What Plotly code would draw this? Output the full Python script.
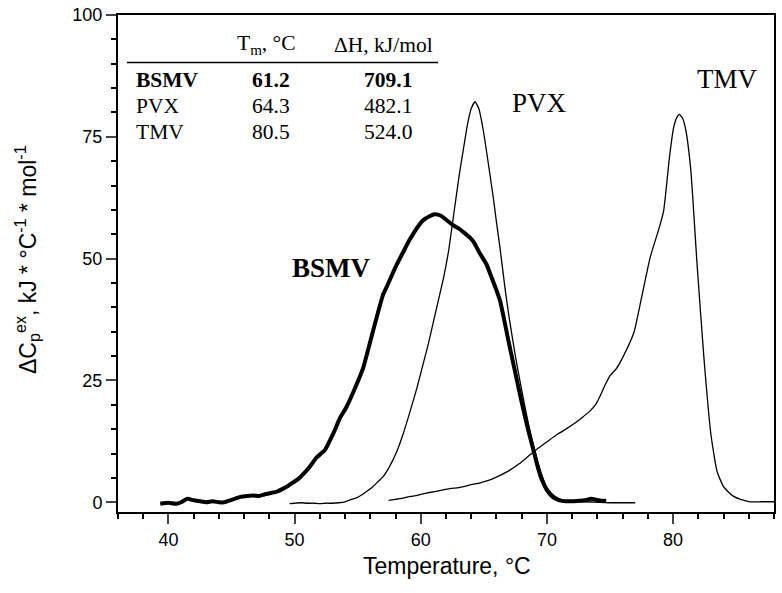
import plotly.graph_objects as go

# ---------------- data ----------------
bsmv_t = [39.35, 40.0, 40.6, 41.0, 41.5, 42.0, 42.5, 43.0, 43.5, 44.0, 44.4, 45.0, 45.7, 46.2,
          46.7, 47.2, 47.6, 48.1, 48.6, 49.1, 49.5, 49.9, 50.3, 50.7, 51.2, 51.75, 52.1, 52.4,
          52.8, 53.1, 53.6, 54.1, 54.8, 55.45, 56.2, 57.0, 57.3, 58.1, 58.6, 59.1, 59.9, 60.2,
          60.7, 61.1, 61.6, 62.1, 62.6, 63.0, 63.4, 63.9, 64.2, 64.7, 65.2, 65.5, 66.0, 66.3,
          67.0, 67.5, 68.0, 68.5, 69.0, 69.3, 69.6, 70.0, 70.5, 71.0, 71.5, 72.0, 72.5, 73.0,
          73.5, 73.9, 74.3, 74.7]
bsmv_cp = [-0.3, -0.1, -0.3, 0.0, 0.7, 0.4, 0.2, 0.0, 0.2, 0.0, 0.0, 0.5, 1.1, 1.3,
           1.4, 1.3, 1.6, 1.9, 2.2, 2.8, 3.4, 4.1, 4.8, 5.8, 7.3, 9.2, 10.0, 10.7,
           12.7, 14.3, 17.3, 19.5, 23.5, 27.7, 35.0, 42.5, 44.2, 48.8, 51.3, 53.8, 57.0, 57.9,
           58.7, 59.1, 58.8, 57.8, 56.8, 56.2, 55.4, 54.3, 53.4, 51.0, 48.9, 46.9, 43.5, 41.2,
           32.5, 26.5, 20.5, 15.0, 10.0, 7.0, 4.6, 2.5, 1.0, 0.4, 0.2, 0.2, 0.3, 0.4,
           0.7, 0.5, 0.3, 0.3]

pvx_t = [49.6, 50.0, 50.5, 51.0, 51.5, 52.0, 52.5, 53.0, 53.5, 54.0, 54.4, 54.9, 55.3, 55.7,
         56.2, 56.6, 57.0, 57.5, 58.1, 58.6, 59.1, 59.7, 60.2, 60.6, 61.0, 61.4, 61.8, 62.2,
         62.5, 62.85, 63.1, 63.4, 63.7, 64.0, 64.3, 64.6, 64.95, 65.3, 65.75, 66.0, 66.3, 66.7,
         67.0, 67.5, 68.0, 68.5, 69.0, 69.5, 70.0, 70.5, 71.0, 71.5, 72.0, 73.0, 74.0, 75.0,
         76.0, 77.0]
pvx_cp = [-0.3, -0.2, -0.1, -0.2, -0.2, -0.3, -0.2, -0.2, -0.1, 0.1, 0.5, 0.9, 1.5, 2.2,
          3.2, 4.2, 5.2, 7.2, 10.4, 14.0, 18.2, 23.5, 28.5, 32.5, 37.0, 41.5, 46.0, 51.5,
          57.0, 63.5, 68.0, 72.8, 77.5, 80.8, 82.2, 80.8, 76.4, 70.5, 62.5, 57.5, 51.8, 43.5,
          38.0, 30.0, 23.0, 16.5, 11.0, 6.3, 3.0, 1.5, 0.7, 0.3, 0.1, 0.1, 0.0, -0.1,
          -0.1, -0.1]

tmv_t = [57.45, 58.0, 58.5, 59.0, 59.5, 60.0, 60.7, 61.5, 62.3, 63.0, 63.4, 64.0, 64.7, 65.5,
         66.2, 67.0, 67.8, 68.5, 69.2, 70.0, 70.8, 71.5, 72.2, 72.8, 73.4, 73.9, 74.2, 74.6,
         75.0, 75.5, 76.1, 76.9, 77.5, 78.2, 78.9, 79.25, 79.5, 79.7, 80.05, 80.3, 80.5, 80.75,
         81.0, 81.4, 81.9, 82.45, 83.0, 83.5, 84.0, 84.3, 84.8, 85.35, 86.1, 87.0, 88.0]
tmv_cp = [0.4, 0.6, 0.8, 1.1, 1.3, 1.6, 2.0, 2.4, 2.8, 3.0, 3.2, 3.6, 4.0, 4.6,
          5.4, 6.5, 7.9, 9.4, 10.9, 12.4, 13.9, 15.0, 16.2, 17.4, 18.7, 20.2, 21.7, 24.0,
          26.0, 27.4, 30.2, 34.9, 42.0, 50.4, 56.3, 59.8, 65.5, 70.5, 77.0, 79.0, 79.6, 78.8,
          76.5, 68.3, 48.9, 29.5, 13.9, 6.2, 3.2, 2.3, 1.2, 0.6, 0.1, 0.1, 0.1]

table_header = ["T<sub>m</sub>, °C", "ΔH, kJ/mol"]
table_names = ["BSMV", "PVX", "TMV"]
table_tm = ["61.2", "64.3", "80.5"]
table_dh = ["709.1", "482.1", "524.0"]

x_ticks = [40, 50, 60, 70, 80]
y_ticks = [0, 25, 50, 75, 100]

# ---------------- layout helpers ----------------
W, H = 782, 593
PL, PR, PT, PB = 118, 774, 15, 512      # plot area in page pixels
L, T, R, B = PL, PT, W - PR, H - PB
PW, PH = PR - PL, PB - PT


def px(sx):
    return (sx - PL) / PW


def py(sy):
    return (PB - sy) / PH


SERIF = "Liberation Serif, Times New Roman, serif"
SANS = "Liberation Sans, Arial, sans-serif"

fig = go.Figure()
fig.add_trace(go.Scatter(x=bsmv_t, y=bsmv_cp, mode="lines", name="BSMV",
                         line=dict(color="black", width=4, shape="spline", smoothing=0.5)))
fig.add_trace(go.Scatter(x=pvx_t, y=pvx_cp, mode="lines", name="PVX",
                         line=dict(color="black", width=1.3, shape="spline", smoothing=0.5)))
fig.add_trace(go.Scatter(x=tmv_t, y=tmv_cp, mode="lines", name="TMV",
                         line=dict(color="black", width=1.3, shape="spline", smoothing=0.5)))

ann = []
# table
ann.append(dict(text=table_header[0], x=px(266), y=py(45), xanchor="center", yanchor="middle"))
ann.append(dict(text=table_header[1], x=px(383), y=py(45), xanchor="center", yanchor="middle"))
row_y = [80, 106, 132]
for i, (n, tm, dh) in enumerate(zip(table_names, table_tm, table_dh)):
    b0, b1 = ("<b>", "</b>") if i == 0 else ("", "")
    ann.append(dict(text=b0 + n + b1, x=px(134), y=py(row_y[i]), xanchor="left", yanchor="middle"))
    ann.append(dict(text=b0 + tm + b1, x=px(271), y=py(row_y[i]), xanchor="center", yanchor="middle"))
    ann.append(dict(text=b0 + dh + b1, x=px(388), y=py(row_y[i]), xanchor="center", yanchor="middle"))
for a in ann:
    a.update(xref="paper", yref="paper", showarrow=False,
             font=dict(family=SERIF, size=21.5, color="black"))

# curve labels
labels = [("<b>BSMV</b>", 331, 268), ("PVX", 539, 103), ("TMV", 727, 79)]
for txt, xx, yy in labels:
    ann.append(dict(text=txt, x=px(xx), y=py(yy), xref="paper", yref="paper", showarrow=False,
                    xanchor="center", yanchor="middle",
                    font=dict(family=SERIF, size=27, color="black")))

# axis titles
ann.append(dict(text="Temperature, °C", x=px(447), y=py(566), xref="paper", yref="paper",
                showarrow=False, xanchor="center", yanchor="middle",
                font=dict(family=SANS, size=23, color="black")))
ann.append(dict(text="ΔC<sub>p</sub><sup>ex</sup>, kJ * °C<sup>-1</sup> * mol<sup>-1</sup>",
                x=px(27), y=py(259), xref="paper", yref="paper", showarrow=False,
                textangle=-90, xanchor="center", yanchor="middle",
                font=dict(family=SANS, size=23, color="black")))

fig.update_layout(
    width=W, height=H,
    margin=dict(l=L, r=R, t=T, b=B, autoexpand=False),
    paper_bgcolor="white", plot_bgcolor="white",
    showlegend=False,
    annotations=ann,
    shapes=[dict(type="line", xref="paper", yref="paper", x0=px(127), x1=px(438),
                 y0=py(62.5), y1=py(62.5), line=dict(color="black", width=1.5))],
)
fig.update_xaxes(range=[36, 88], tickvals=x_ticks, ticks="outside", ticklen=10, tickwidth=2,
                 showline=True, linewidth=2, linecolor="black", mirror=True, showgrid=False,
                 zeroline=False, ticklabeloverflow="allow",
                 tickfont=dict(family=SANS, size=18, color="black"),
                 minor=dict(dtick=2, tick0=0, ticks="outside", ticklen=5, tickwidth=2,
                            tickcolor="black", showgrid=False))
fig.update_yaxes(range=[-2, 100], tickvals=y_ticks, ticks="outside", ticklen=10, tickwidth=2,
                 showline=True, linewidth=2, linecolor="black", mirror=True, showgrid=False,
                 zeroline=False, ticklabeloverflow="allow",
                 tickfont=dict(family=SANS, size=18, color="black"),
                 minor=dict(dtick=5, tick0=0, ticks="outside", ticklen=5, tickwidth=2,
                            tickcolor="black", showgrid=False))

# remove the browser's default 8px body margin so the figure sits at the page corner
fig.write_html("out.html", config={"displayModeBar": False},
               post_script="document.body.style.margin='0px';")
